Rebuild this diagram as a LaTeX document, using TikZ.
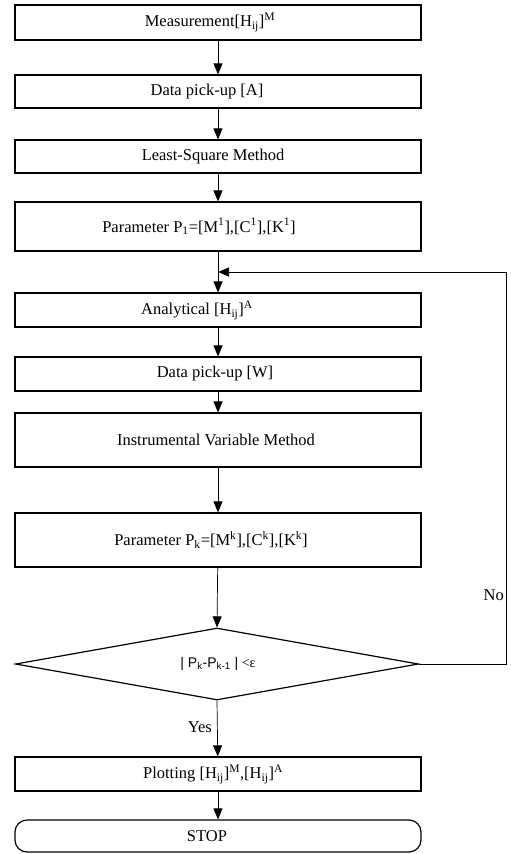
\documentclass[tikz,border=0pt]{standalone}
\usepackage{fontspec}
\setmainfont{Liberation Serif}
\newfontfamily\sansP{Liberation Sans}
\usetikzlibrary{arrows.meta,shapes.geometric}
\tikzset{
  stepbox/.style={draw, line width=1.2pt, minimum width=406pt, inner sep=0pt, rectangle},
  txt/.style={inner sep=0pt, font=\fontsize{16.5}{19}\selectfont},
  flow/.style={line width=0.7pt, -{Triangle[length=11pt,width=9pt]}},
  decision/.style={draw, line width=1.2pt, shape=diamond, shape aspect=5.6,
    minimum width=403pt, minimum height=72pt, inner sep=0pt},
}
\begin{document}
\begin{tikzpicture}[x=1pt, y=-1pt]
\useasboundingbox (0,0) rectangle (511,854);
% process boxes
\node[stepbox, minimum height=35pt] (b1) at (218,22.5) {};
\node[stepbox, minimum height=33pt] (b2) at (218,91.5) {};
\node[stepbox, minimum height=33pt] (b3) at (218,156.5) {};
\node[stepbox, minimum height=49pt] (b4) at (218,226.5) {};
\node[stepbox, minimum height=34pt] (b5) at (218,310) {};
\node[stepbox, minimum height=34pt] (b6) at (218,374) {};
\node[stepbox, minimum height=54pt] (b7) at (218,440) {};
\node[stepbox, minimum height=54pt] (b8) at (218,540) {};
\node[decision] (d) at (217,664) {};
\node[stepbox, minimum height=34pt] (b9) at (218,774) {};
\node[stepbox, minimum height=32pt, rounded corners=12pt] (stop) at (218,836) {};
% box texts
\node[txt] (t1) at (210,22.5) {Measurement[H\textsubscript{ij}]\textsuperscript{M}};
\node[txt] (t2) at (207,91.5) {Data pick-up [A]};
\node[txt] (t3) at (213,156.5) {Least-Square Method};
\node[txt] (t4) at (199,226.5) {Parameter P\textsubscript{1}=[M\textsuperscript{1}],[C\textsuperscript{1}],[K\textsuperscript{1}]};
\node[txt] (t5) at (197,310) {Analytical [H\textsubscript{ij}]\textsuperscript{A}};
\node[txt] (t6) at (215,374) {Data pick-up [W]};
\node[txt] (t7) at (216,440) {Instrumental Variable Method};
\node[txt] (t8) at (211,540) {Parameter P\textsubscript{k}=[M\textsuperscript{k}],[C\textsuperscript{k}],[K\textsuperscript{k}]};
\node[txt, font=\fontsize{14}{16}\selectfont] (td) at (218,664) {{\sansP| P\textsubscript{k}-P\textsubscript{k-1} |} <ε};
\node[txt] (t9) at (213,774) {Plotting [H\textsubscript{ij}]\textsuperscript{M},[H\textsubscript{ij}]\textsuperscript{A}};
\node[txt] (t10) at (207,836) {STOP};
% branch labels
\node[txt, anchor=east] (yes) at (212,727) {Yes};
\node[txt, anchor=east] (no) at (504,595) {No};
% loop corner points
\coordinate (j) at (218,272);
\coordinate (r1) at (506,664);
\coordinate (r2) at (506,272);
% connectors
\draw[flow] (b1) -- (b2);
\draw[flow] (b2) -- (b3);
\draw[flow] (b3) -- (b4);
\draw[flow] (b4) -- (b5);
\draw[flow] (b5) -- (b6);
\draw[flow] (b6) -- (b7);
\draw[flow] (b7) -- (b8);
\draw[flow] (b8) -- (d.north);
\draw[flow] (d.south) -- (b9);
\draw[flow] (b9) -- (stop);
\draw[flow] (d.east) -- (r1) -- (r2) -- (j);
\end{tikzpicture}
\end{document}
